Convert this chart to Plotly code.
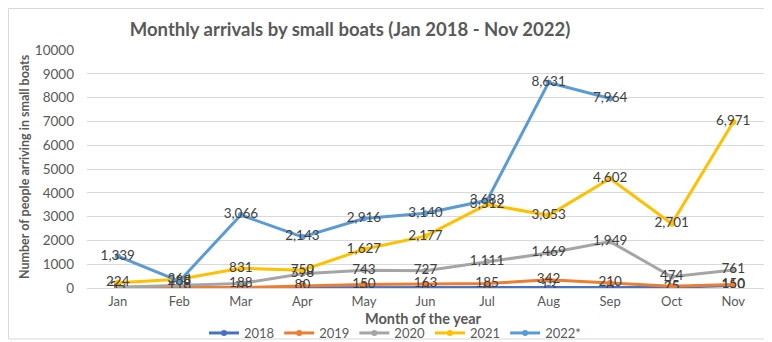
import plotly.graph_objects as go

months = ["Jan", "Feb", "Mar", "Apr", "May", "Jun", "Jul", "Aug", "Sep", "Oct", "Nov"]
y2018 = [0, 0, 0, 0, 0, 0, 0, 13, 0, 25, 110]
y2019 = [30, 30, 18, 80, 150, 163, 185, 342, 210, 75, 150]
y2020 = [35, 118, 188, 598, 743, 727, 1111, 1469, 1949, 474, 761]
y2021 = [224, 368, 831, 750, 1627, 2177, 3512, 3053, 4602, 2701, 6971]
y2022 = [1339, 288, 3066, 2143, 2916, 3140, 3683, 8631, 7964]

series = [
    ("2018", y2018, "#4472C4"),
    ("2019", y2019, "#ED7D31"),
    ("2020", y2020, "#A5A5A5"),
    ("2021", y2021, "#FFC000"),
    ("2022*", y2022, "#5B9BD5"),
]

FONT = "Lato"
GREY = "#595959"
# The page body has an 8px margin, so the figure is placed at (8, 8)
OFF = 8
W, H = 772 - OFF, 342 - OFF
# plot area in page px: x 87..764, y 50..288
PL, PR, PT, PB = 87 - OFF, 764 - OFF, 50 - OFF, 288 - OFF
PW, PH = PR - PL, PB - PT

fig = go.Figure()
for name, vals, col in series:
    fig.add_trace(go.Scatter(
        x=months[:len(vals)], y=vals, name=name,
        mode="lines+markers+text",
        line=dict(color=col, width=3),
        marker=dict(color=col, size=6),
        text=[f"{v:,}" for v in vals],
        textposition="middle center",
        textfont=dict(family=FONT, size=13.5, color="#404040"),
    ))

fig.update_layout(
    width=W, height=H,
    margin=dict(l=PL, r=W - PR, t=PT, b=H - PB, autoexpand=False),
    paper_bgcolor="white", plot_bgcolor="white",
    font=dict(family=FONT, size=13, color=GREY),
    title=dict(text="<b>Monthly arrivals by small boats (Jan 2018 - Nov 2022)</b>",
               x=(350 - OFF) / W, xanchor="center", y=1 - (30 - OFF) / H, yanchor="middle",
               font=dict(family=FONT, size=18.5, color=GREY)),
    showlegend=True,
    legend=dict(orientation="h", x=(395 - 87) / PW, xanchor="center",
                y=-(333 - 288) / PH, yanchor="middle",
                font=dict(family=FONT, size=13, color=GREY),
                itemwidth=30, bgcolor="rgba(0,0,0,0)"),
    xaxis=dict(type="category", range=[-0.5, 10.5], showgrid=False, showline=False,
               ticks="", automargin=False, ticklabelstandoff=4,
               tickfont=dict(family=FONT, size=13, color=GREY)),
    yaxis=dict(range=[0, 10000], dtick=1000, showgrid=True, gridcolor="#D9D9D9",
               gridwidth=1, zeroline=True, zerolinecolor="#D9D9D9", zerolinewidth=1,
               ticks="", tickformat="d", ticklabelstandoff=12, automargin=False,
               tickfont=dict(family=FONT, size=13.5, color=GREY)),
    annotations=[
        dict(text="<b>Month of the year</b>", xref="paper", yref="paper",
             x=(423 - 87) / PW, y=-(318 - 288) / PH, xanchor="center", yanchor="middle",
             showarrow=False, font=dict(family=FONT, size=14.5, color=GREY)),
        dict(text="<b>Number of people arriving in small boats</b>", xref="paper", yref="paper",
             x=(24 - 87) / PW, y=(288 - 167) / PH, xanchor="center", yanchor="middle",
             textangle=-90, showarrow=False, font=dict(family=FONT, size=12.5, color=GREY)),
    ],
)
fig.add_shape(type="rect", xref="paper", yref="paper",
              x0=-(PL - 0.5) / PW, x1=1 + 1 / PW,
              y0=-(339 - 288) / PH, y1=1 + (PT - 0.5) / PH,
              line=dict(color="#D9D9D9", width=1), layer="below")

fig.write_html("out.html")
